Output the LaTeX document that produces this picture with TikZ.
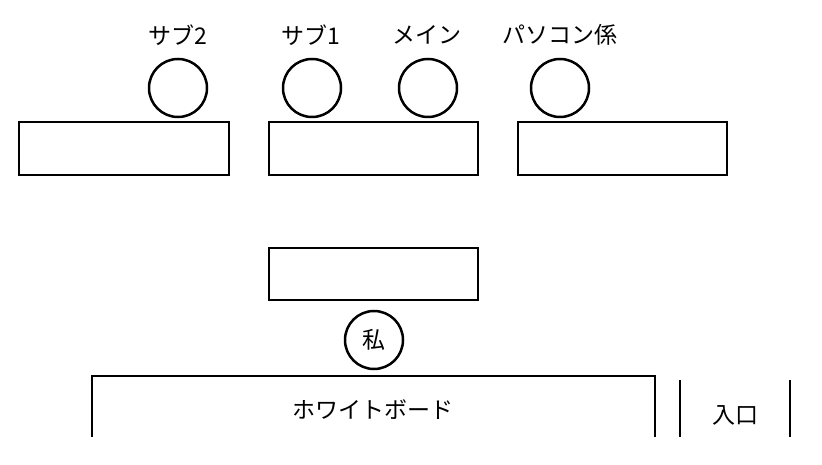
\documentclass[tikz,border=0pt]{standalone}
\usepackage{fontspec}
\setmainfont{Noto Sans CJK JP}
\begin{document}
\begin{tikzpicture}[x=1pt,y=-1pt,line width=2.5pt,
  seat/.style={draw,circle,minimum size=58pt,inner sep=0pt,font=\fontsize{23}{26}\selectfont},
  lbl/.style={font=\fontsize{23}{26}\selectfont,inner sep=0pt},
  desk/.style={draw}]
\useasboundingbox (0,0) rectangle (822,465);
\node[lbl] (l2) at (178,35) {サブ2};
\node[lbl] (l1) at (311,35) {サブ1};
\node[lbl] (lm) at (427,35) {メイン};
\node[lbl] (lp) at (560,35) {パソコン係};
\node[seat] (c2) at (178,88) {};
\node[seat] (c1) at (312,88) {};
\node[seat] (cm) at (428,88) {};
\node[seat] (cp) at (560,88) {};
\draw[desk] (19,122) rectangle (229,175);
\draw[desk] (269,122) rectangle (478,175);
\draw[desk] (518,122) rectangle (727,175);
\draw[desk] (269,248) rectangle (478,300);
\node[seat] (me) at (374,340) {私};
\draw (92,437) -- (92,376) -- (655,376) -- (655,437);
\node[lbl] (wb) at (373,410) {ホワイトボード};
\draw (680,380) -- (680,437);
\draw (790,380) -- (790,437);
\node[lbl] (ent) at (735,415) {入口};
\end{tikzpicture}
\end{document}
